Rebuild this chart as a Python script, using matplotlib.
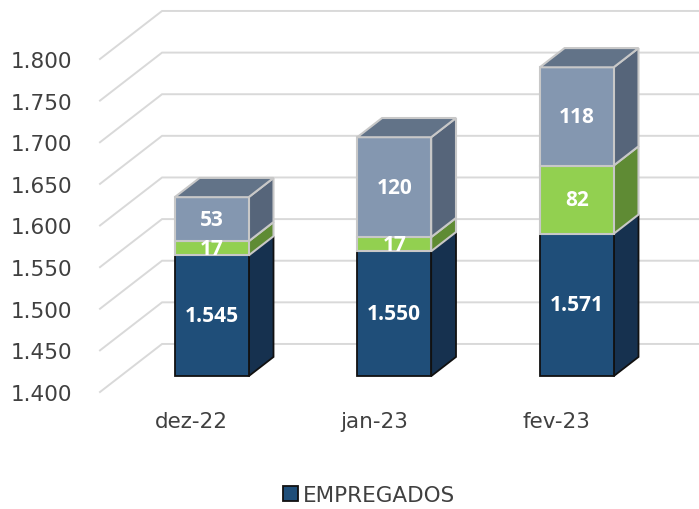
import matplotlib
matplotlib.use("Agg")
from matplotlib import pyplot as plt
from matplotlib.patches import Polygon, Patch

categories = ["dez-22", "jan-23", "fev-23"]
empregados = [1545, 1550, 1571]
verde = [17, 17, 82]
cinza = [53, 120, 118]
yticks = [1400, 1450, 1500, 1550, 1600, 1650, 1700, 1750, 1800]
ytick_labels = ["1.400", "1.450", "1.500", "1.550", "1.600", "1.650", "1.700", "1.750", "1.800"]

# segment styles: front, side, top, edge
styles = [
    ("#1F4E79", "#16314F", "#1F3A58", "#111111"),
    ("#92D050", "#5F8B34", "#6E9E3E", "#C8C8C8"),
    ("#8497B0", "#56657A", "#627388", "#C8C8C8"),
]

# 3d look: depth offset in data units
DX = 0.34  # category units
DY = 57.7  # value units
T0, T1 = 0.33, 0.73
W = 0.405
FLOOR = 1400

fig = plt.figure(figsize=(6.99, 5.10), dpi=100)
ax = fig.add_axes([100 / 699, 117 / 510, 599 / 699, 393 / 510])
ax.set_xlim(0, 599 / 182.5)
ax.set_ylim(FLOOR, FLOOR + 393 / 0.8325)
for s in ax.spines.values():
    s.set_visible(False)

def P(x, v, t):
    return (x + DX * t, v + DY * t)

# gridlines with perspective
xmax = ax.get_xlim()[1]
for v in yticks:
    p0 = P(0, v, 0)
    p1 = P(0, v, 1)
    ax.plot([p0[0], p1[0], xmax + 1], [p0[1], p1[1], p1[1]], color="#D9D9D9",
            lw=1.4, clip_on=False, zorder=1, solid_joinstyle="miter")

for i, cat in enumerate(categories):
    c = i + 0.5
    x0, x1 = c - W / 2, c + W / 2
    series = [empregados[i], verde[i], cinza[i]]
    bottoms = [FLOOR, empregados[i], empregados[i] + verde[i]]
    tops = [empregados[i], empregados[i] + verde[i], empregados[i] + verde[i] + cinza[i]]
    for k, val in enumerate(series):
        fc, sc, tc, ec = styles[k]
        lw = 1.3 if k == 0 else 1.5
        b, tp = bottoms[k], tops[k]
        front = [P(x0, b, T0), P(x1, b, T0), P(x1, tp, T0), P(x0, tp, T0)]
        side = [P(x1, b, T0), P(x1, b, T1), P(x1, tp, T1), P(x1, tp, T0)]
        ax.add_patch(Polygon(side, closed=True, fc=sc, ec=ec, lw=lw, zorder=3 + k, clip_on=False))
        ax.add_patch(Polygon(front, closed=True, fc=fc, ec=ec, lw=lw, zorder=3 + k, clip_on=False))
        if k == len(series) - 1:
            top = [P(x0, tp, T0), P(x1, tp, T0), P(x1, tp, T1), P(x0, tp, T1)]
            ax.add_patch(Polygon(top, closed=True, fc=tc, ec=ec, lw=lw, zorder=3 + k, clip_on=False))
        cx, cy = P(c, (b + tp) / 2, T0)
        lab = f"{val:,}".replace(",", ".")
        ax.text(cx, cy, lab, ha="center", va="center", color="white", fontsize=15,
                fontweight="bold", family="Open Sans", zorder=10)

ax.set_yticks(yticks)
ax.set_yticklabels(ytick_labels)
ax.set_xticks([i + 0.5 for i in range(len(categories))])
ax.set_xticklabels(categories)
ax.tick_params(axis="y", length=0, pad=20, labelsize=15.5, labelcolor="#404040")
ax.tick_params(axis="x", length=0, pad=14, labelsize=15.5, labelcolor="#404040")

handle = Patch(facecolor="#1F4E79", edgecolor="#111111", lw=1.3)
fig.legend([handle], ["EMPREGADOS"], loc="center", bbox_to_anchor=(369 / 699, 14 / 510),
           frameon=False, fontsize=15.5, handlelength=0.7, handleheight=0.7,
           handletextpad=0.25, labelcolor="#404040")

fig.savefig("out.png", dpi=100)
